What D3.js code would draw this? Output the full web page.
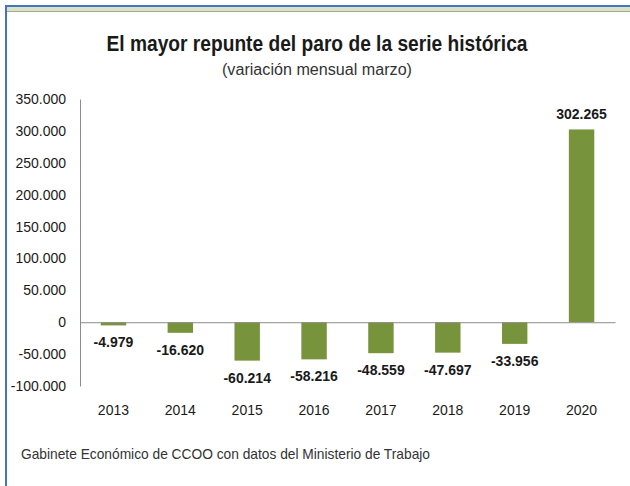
<!DOCTYPE html>
<html>
<head>
<meta charset="utf-8">
<script src="https://cdn.jsdelivr.net/npm/d3@7"></script>
<style>
  body { margin: 0; background: #fff; }
  svg text { font-family: "Liberation Sans Narrow", "Liberation Sans", Arial, sans-serif; }
</style>
</head>
<body>
<div id="d3-container"></div>
<script>
// data
const years = ["2013", "2014", "2015", "2016", "2017", "2018", "2019", "2020"];
const values = [-4979, -16620, -60214, -58216, -48559, -47697, -33956, 302265];
const yTicks = [-100000, -50000, 0, 50000, 100000, 150000, 200000, 250000, 300000, 350000];

const width = 630;
const height = 486;
const margin = { top: 99, bottom: 100, left: 80, right: 15 };

// spanish style thousands, plain hyphen for negatives
const fmt = v => d3.format(",")(v).replace(/,/g, ".").replace("\u2212", "-");

const svg = d3.select('#d3-container')
  .append('svg')
  .attr('width', width)
  .attr('height', height);

// frame lines at top and left
svg.append("rect").attr("x", 5).attr("y", 7).attr("width", width - 5).attr("height", 4).attr("fill", "#d7e4bd");
svg.append("rect").attr("x", 5).attr("y", 11).attr("width", width - 5).attr("height", 1).attr("fill", "#a6a6a6");
svg.append("rect").attr("x", 5).attr("y", 5).attr("width", width - 5).attr("height", 2).attr("fill", "#4472c4");
svg.append("rect").attr("x", 5).attr("y", 5).attr("width", 2).attr("height", height - 5).attr("fill", "#4472c4");

// title
svg.append("text")
  .attr("x", 317).attr("y", 51)
  .attr("text-anchor", "middle")
  .attr("font-size", "22px")
  .attr("font-weight", "bold")
  .attr("fill", "#1a1a1a")
  .attr("textLength", 421)
  .attr("lengthAdjust", "spacingAndGlyphs")
  .text("El mayor repunte del paro de la serie histórica");

svg.append("text")
  .attr("x", 317).attr("y", 75)
  .attr("text-anchor", "middle")
  .attr("font-size", "16px")
  .attr("fill", "#333")
  .attr("textLength", 190)
  .attr("lengthAdjust", "spacingAndGlyphs")
  .text("(variación mensual marzo)");

const x = d3.scaleBand()
  .domain(years)
  .range([margin.left, width - margin.right])
  .paddingInner(0.62)
  .paddingOuter(0.31);

const y = d3.scaleLinear()
  .domain([-100000, 350000])
  .range([height - margin.bottom, margin.top]);

// bars
svg.append("g")
  .attr("fill", "#77933c")
  .selectAll("rect")
  .data(values)
  .join("rect")
    .attr("x", (d, i) => x(years[i]))
    .attr("width", x.bandwidth())
    .attr("y", d => y(Math.max(0, d)))
    .attr("height", d => Math.abs(y(d) - y(0)));

// value labels
svg.append("g")
  .selectAll("text")
  .data(values)
  .join("text")
    .attr("x", (d, i) => x(years[i]) + x.bandwidth() / 2)
    .attr("y", d => d < 0 ? y(d) + 22 : y(d) - 10)
    .attr("text-anchor", "middle")
    .attr("font-size", "14px")
    .attr("font-weight", "bold")
    .attr("fill", "#1a1a1a")
    .text(d => fmt(d));

// y axis
function yAxis(g) {
  g.attr("transform", `translate(${margin.left}, 0)`)
    .call(d3.axisLeft(y)
      .tickValues(yTicks)
      .tickSize(0)
      .tickPadding(14)
      .tickFormat(d => fmt(d)));
  g.select(".domain").attr("stroke", "#8c8c8c");
  g.selectAll("text").attr("font-size", "14px").attr("fill", "#1a1a1a");
}

// zero line
function xAxis(g) {
  g.attr("transform", `translate(0,${y(0)})`)
    .call(d3.axisBottom(x).tickSize(0).tickFormat(() => ""));
  g.select(".domain").attr("stroke", "#8c8c8c");
}

svg.append("g").call(yAxis);
svg.append("g").call(xAxis);

// year labels sit below the plot, not at the zero line
svg.append("g")
  .selectAll("text")
  .data(years)
  .join("text")
    .attr("x", d => x(d) + x.bandwidth() / 2)
    .attr("y", 415)
    .attr("text-anchor", "middle")
    .attr("font-size", "14px")
    .attr("fill", "#1a1a1a")
    .text(d => d);

// source
svg.append("text")
  .attr("x", 21).attr("y", 459)
  .attr("font-size", "15px")
  .attr("fill", "#333")
  .attr("textLength", 409)
  .attr("lengthAdjust", "spacingAndGlyphs")
  .text("Gabinete Económico de CCOO con datos del Ministerio de Trabajo");
</script>
</body>
</html>
